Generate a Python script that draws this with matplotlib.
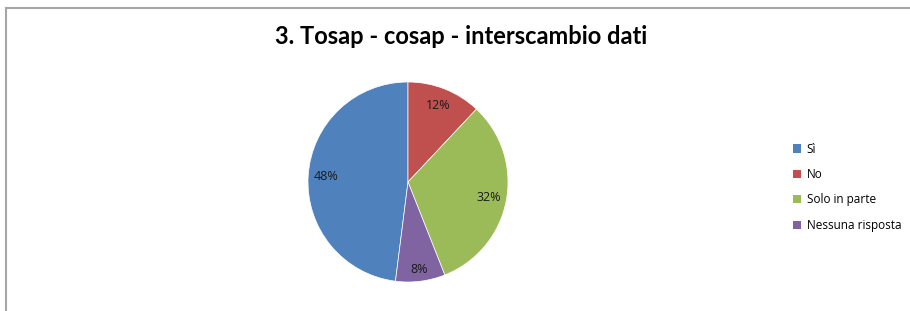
import matplotlib
matplotlib.use('Agg')
from matplotlib import pyplot as plt
from matplotlib.patches import Patch
import numpy as np

# dati
categorie = ['Sì', 'No', 'Solo in parte', 'Nessuna risposta']
valori = [48, 12, 32, 8]
colori = ['#4F81BD', '#C0504D', '#9BBB59', '#8064A2']

W, H = 910, 311
fig = plt.figure(figsize=(W / 100, H / 100), dpi=100)
fig.patch.set_facecolor('white')

# cornice grigia (bordo superiore e sinistro)
fig.add_artist(plt.Line2D([6 / W, 1], [1 - 8 / H, 1 - 8 / H], color='#a6a6a6', lw=1.5))
fig.add_artist(plt.Line2D([6 / W, 6 / W], [0, 1 - 8 / H], color='#a6a6a6', lw=1.5))

# titolo
fig.text(461 / W, 1 - 37 / H, '3. Tosap - cosap - interscambio dati',
         ha='center', va='center', fontsize=17, fontweight='bold', family='Lato')

# torta
cx, cy, r = 408, 182, 100
ax = fig.add_axes([(cx - r) / W, (H - cy - r) / H, 2 * r / W, 2 * r / H])
wedges, testi, perc = ax.pie(valori, colors=colori, startangle=90 - 187.2,
                             counterclock=False, autopct='%d%%', pctdistance=0.82,
                             wedgeprops=dict(edgecolor='white', linewidth=0.5),
                             textprops=dict(fontsize=9, family='Open Sans', color='#1a1a1a'))
# etichetta della fetta piccola un po' più esterna
w = wedges[3]
ang = np.deg2rad((w.theta1 + w.theta2) / 2)
perc[3].set_position((0.88 * np.cos(ang), 0.88 * np.sin(ang)))
ax.set_xlim(-1, 1)
ax.set_ylim(-1, 1)
ax.set_aspect('auto')
ax.axis('off')

# legenda
maniglie = [Patch(facecolor=c, edgecolor='none') for c in colori]
leg = fig.legend(maniglie, categorie, loc='upper left',
                 bbox_to_anchor=(782 / W, 1 - 132 / H), frameon=False,
                 prop=dict(family='Open Sans', size=8.5), handlelength=0.7,
                 handleheight=0.7, handletextpad=0.5, labelspacing=1.05)

plt.savefig('out.png', dpi=100)
